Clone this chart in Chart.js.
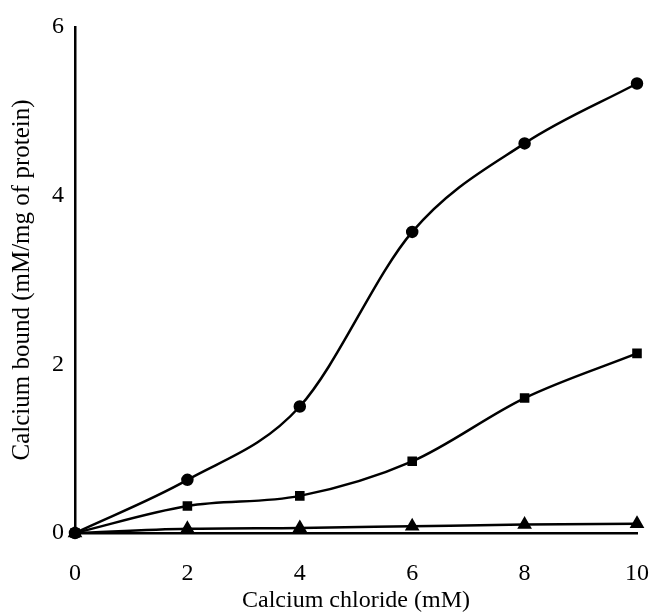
<!DOCTYPE html>
<html>
<head>
<meta charset="utf-8">
<script src="https://cdn.jsdelivr.net/npm/chart.js@4"></script>
<style>
  html, body { margin: 0; padding: 0; background: #fff; }
  #wrap { width: 649px; height: 615px; }
</style>
</head>
<body>
<div id="wrap"><canvas id="bindingChart" width="649" height="615"></canvas></div>
<script>
// Calcium bound vs calcium chloride concentration
const xValues = [0, 2, 4, 6, 8, 10];
const circleSeries = [0, 0.63, 1.5, 3.57, 4.62, 5.33];
const squareSeries = [0, 0.32, 0.44, 0.85, 1.6, 2.13];
const triangleSeries = [0, 0.05, 0.06, 0.08, 0.1, 0.11];
const xTicks = [0, 2, 4, 6, 8, 10];
const yTicks = [0, 2, 4, 6];

const serif = "'Liberation Serif', 'Times New Roman', serif";

function toPoints(values) {
  return xValues.map((x, i) => ({ x, y: values[i] }));
}

function series(label, values, style, radius) {
  return {
    label,
    data: toPoints(values),
    borderColor: '#000',
    backgroundColor: '#000',
    borderWidth: 2.5,
    pointStyle: style,
    pointRadius: radius,
    pointBackgroundColor: '#000',
    pointBorderColor: '#000',
    cubicInterpolationMode: 'monotone',
    fill: false,
    clip: false,
  };
}

const ctx = document.getElementById('bindingChart');
new Chart(ctx, {
  type: 'scatter',
  data: {
    datasets: [
      series('Circles', circleSeries, 'circle', 5),
      series('Squares', squareSeries, 'rect', 5),
      series('Triangles', triangleSeries, 'triangle', 6),
    ],
  },
  options: {
    responsive: false,
    animation: false,
    showLine: true,
    layout: { padding: { top: 27, right: 12, left: 0, bottom: 0 } },
    plugins: {
      legend: { display: false },
      tooltip: { enabled: false },
    },
    scales: {
      x: {
        type: 'linear',
        min: 0,
        max: 10,
        afterBuildTicks: (axis) => { axis.ticks = xTicks.map((v) => ({ value: v })); },
        afterFit: (axis) => {
          axis.height = 82;
          axis.paddingLeft = 0;
          axis.paddingRight = 0;
        },
        grid: { display: false, drawTicks: false },
        border: { display: true, color: '#000', width: 2.5 },
        ticks: { color: '#000', padding: 26, maxRotation: 0, font: { family: serif, size: 24 } },
        title: {
          display: true,
          text: 'Calcium chloride (mM)',
          color: '#000',
          padding: { top: 0, bottom: 0 },
          font: { family: serif, size: 24 },
        },
      },
      y: {
        type: 'linear',
        min: 0,
        max: 6,
        afterBuildTicks: (axis) => { axis.ticks = yTicks.map((v) => ({ value: v })); },
        afterFit: (axis) => {
          axis.width = 75;
          axis.paddingTop = 0;
          axis.paddingBottom = 0;
        },
        grid: { display: false, drawTicks: false },
        border: { display: true, color: '#000', width: 2.5 },
        ticks: { color: '#000', padding: 11, font: { family: serif, size: 24 } },
        title: {
          display: true,
          text: 'Calcium bound (mM/mg of protein)',
          color: '#000',
          padding: { top: 7, bottom: 0 },
          font: { family: serif, size: 25 },
        },
      },
    },
  },
});
</script>
</body>
</html>
